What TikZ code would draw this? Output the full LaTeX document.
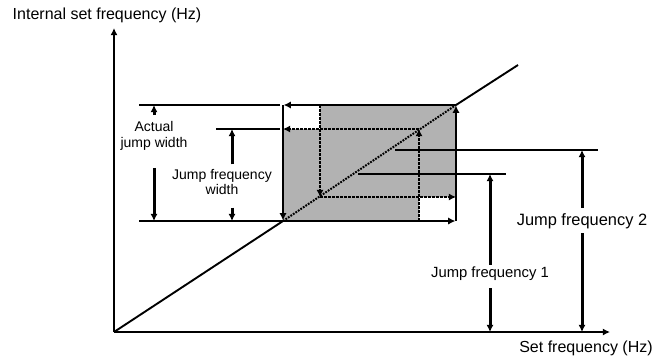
\documentclass[tikz,border=0pt]{standalone}
\usepackage{fontspec}
\setmainfont{Liberation Sans}
\usetikzlibrary{arrows.meta}

\begin{document}
\begin{tikzpicture}[x=0.5pt,y=-0.5pt,>={Latex[length=3.6pt,width=3.6pt]},
    axis/.style={line width=1.1pt,->},
    edge/.style={line width=1.3pt,->,shorten >=0.3pt},
    dots/.style={line width=1.4pt,dash pattern=on 1.4pt off 0.6pt,->},
    ext/.style={line width=1.1pt},
    dim/.style={line width=1.5pt,->},
    lbl/.style={align=center,inner sep=0pt}]
  \useasboundingbox (0,0) rectangle (668,361);
  % axes and key points
  \coordinate (O) at (114,332);
  \coordinate (ytip) at (114,28);
  \coordinate (xtip) at (610,332);
  \coordinate (bl) at (283,221);
  \coordinate (tl) at (283,105);
  \coordinate (tr) at (456,105);
  \coordinate (br) at (456,221);
  \coordinate (il) at (283,129);
  \coordinate (ir) at (456,197);
  \coordinate (a1) at (320,105);
  \coordinate (a2) at (320,197);
  \coordinate (b1) at (419,221);
  \coordinate (b2) at (419,129);
  \coordinate (dend) at (518,65);
  \coordinate (e1) at (139,105);
  \coordinate (e2) at (216,129);
  \coordinate (e3) at (139,221);
  \coordinate (h1a) at (358,174);
  \coordinate (h1b) at (506,174);
  \coordinate (h2a) at (395,150);
  \coordinate (h2b) at (598,150);

  % shaded jump band
  \fill[black!30] (il) -- (il -| a1) -- (a1) -- (tr) -- (ir) -- (ir -| b1) -- (b1) -- (bl) -- cycle;

  \draw[axis] (O) -- (ytip);
  \draw[axis] (O) -- (xtip);
  \node[font=\fontsize{8}{9.6}\selectfont] (ylab) at (107,15) {Internal set frequency (Hz)};
  \node[font=\fontsize{8}{9.6}\selectfont] (xlab) at (586,348) {Set frequency (Hz)};

  % characteristic line
  \draw[line width=0.95pt] (O) -- (bl);
  \draw[line width=1pt,dash pattern=on 0.9pt off 0.6pt] (bl) -- (tr);
  \draw[line width=0.95pt] (tr) -- (dend);

  % extension lines
  \draw[ext,shorten >=1.5pt] (e1) -- (tl);
  \draw[ext,shorten >=1.5pt] (e2) -- (il);
  \draw[ext] (e3) -- (bl);
  \draw[ext] (h1a) -- (h1b);
  \draw[ext] (h2a) -- (h2b);

  % outer loop
  \draw[edge] (tr) -- (tl);
  \draw[edge] (tl) -- (bl);
  \draw[edge] (bl) -- (br);
  \draw[edge] (br) -- (tr);

  % inner loop
  \draw[dots] (b2) -- (il);
  \draw[dots] (a1) -- (a2);
  \draw[dots] (a2) -- (ir);
  \draw[dots] (b1) -- (b2);

  % widths
  \node[lbl,font=\fontsize{7}{8}\selectfont] (aj) at (154,136) {Actual\\jump width};
  \draw[dim,shorten <=3pt] (aj.north) -- (aj.north |- tl);
  \draw[dim,shorten <=8.5pt] (aj.south) -- (aj.south |- bl);
  \node[lbl,font=\fontsize{7}{7.8}\selectfont] (jw) at (222,182) {Jump frequency\\width};
  \draw[dim,shorten <=2.2pt] ([xshift=5pt]jw.north) -- ([xshift=5pt]jw.north |- il);
  \draw[dim,shorten <=6.2pt] ([xshift=5pt]jw.south) -- ([xshift=5pt]jw.south |- bl);

  % jump frequencies
  \node[lbl,font=\fontsize{7.4}{8.8}\selectfont] (jf1) at (490,274) {Jump frequency 1};
  \draw[dim,shorten <=1pt] (jf1.north) -- (jf1.north |- h1a);
  \draw[dim,shorten <=3.5pt] (jf1.south) -- (jf1.south |- O);
  \node[lbl,font=\fontsize{8.2}{9.8}\selectfont] (jf2) at (582,221) {Jump frequency 2};
  \draw[dim,shorten <=2.7pt] (jf2.north) -- (jf2.north |- h2a);
  \draw[dim,shorten <=2.2pt] (jf2.south) -- (jf2.south |- O);
\end{tikzpicture}
\end{document}
